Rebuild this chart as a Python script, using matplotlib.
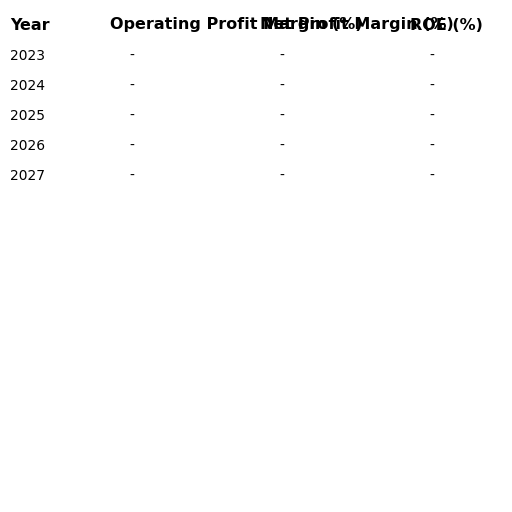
import matplotlib
matplotlib.use("Agg")
import matplotlib.pyplot as plt

columns = ["Year", "Operating Profit Margin (%)", "Net Profit Margin (%)", "ROE (%)"]
years = ["2023", "2024", "2025", "2026", "2027"]
op_margin = ["-", "-", "-", "-", "-"]
net_margin = ["-", "-", "-", "-", "-"]
roe = ["-", "-", "-", "-", "-"]

W = H = 512
fig = plt.figure(figsize=(5.12, 5.12), dpi=100)

col_x = [10, 110, 260, 410]
val_x = [None, 132, 282, 432]

# headers overlap in the reference too, keep them as they are
for x, name in zip(col_x, columns):
    fig.text(x / W, 1 - 25 / H, name, fontsize=11.5, fontweight="bold",
             ha="left", va="center")

for i, year in enumerate(years):
    y = 1 - (56 + 30 * i) / H
    fig.text(col_x[0] / W, y, year, fontsize=10, ha="left", va="center")
    for x, vals in zip(val_x[1:], [op_margin, net_margin, roe]):
        fig.text(x / W, y, vals[i], fontsize=10, ha="center", va="center")

fig.savefig("out.png", dpi=100)
